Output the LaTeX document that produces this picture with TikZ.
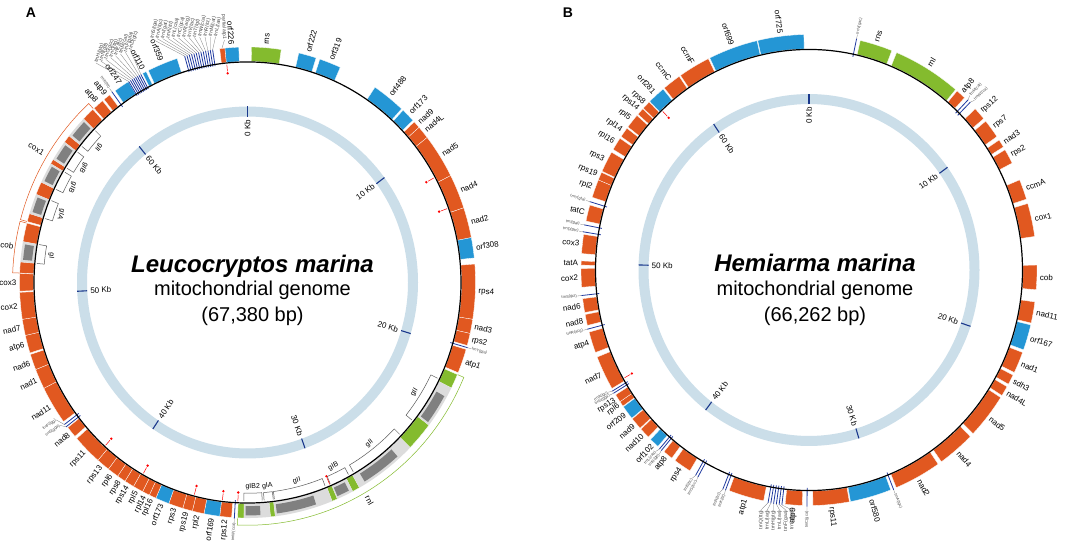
\documentclass[tikz,border=0pt]{standalone}
\usepackage{fontspec}
\setmainfont{Liberation Sans}
\definecolor{genorange}{RGB}{225,88,32}
\definecolor{genblue}{RGB}{36,150,213}
\definecolor{gengreen}{RGB}{132,187,46}
\definecolor{trnblue}{RGB}{32,58,160}
\definecolor{ringblue}{RGB}{203,222,233}
\definecolor{tickblue}{RGB}{26,56,140}
\definecolor{intlight}{RGB}{220,220,220}
\definecolor{intdark}{RGB}{128,128,128}
\definecolor{txtgray}{RGB}{70,70,70}
\definecolor{brkgray}{RGB}{90,90,90}

% annular sector: style, from, to (degrees clockwise from top), inner r, outer r
\newcommand{\gsect}[5]{\fill[#1] ({90-(#2)}:#4) arc[start angle={90-(#2)}, end angle={90-(#3)}, radius=#4]
  -- ({90-(#3)}:#5) arc[start angle={90-(#3)}, end angle={90-(#2)}, radius=#5] -- cycle;}
% radial label: style, name, angle, radius, text
\newcommand{\glabel}[5]{\pgfmathsetmacro{\labang}{#3}%
  \ifdim\labang pt<180pt
    \node[#1, anchor=west, rotate={90-\labang}] (\pfx#2) at ({90-\labang}:#4) {#5};
  \else
    \node[#1, anchor=east, rotate={270-\labang}] (\pfx#2) at ({90-\labang}:#4) {#5};
  \fi}
\newcommand{\gene}[5]{\gsect{#4}{#2}{#3}{214}{228}\glabel{glab}{#1}{(#2+#3)/2}{230}{#5}}
\newcommand{\trna}[4]{\draw[trn] ({90-(#2)}:211) -- ({90-(#2)}:229) coordinate (\pfx#1e);
  \path ({90-(#3)}:233) coordinate (\pfx#1a);
  \draw[lead] (\pfx#1e) -- (\pfx#1a);
  \glabel{tlab}{#1}{#3}{233}{#4}}
\newcommand{\redmk}[1]{\draw[mk] ({90-(#1)}:205.5) -- ({90-(#1)}:212);
  \fill[red] ({90-(#1)}:203.5) circle[radius=1.3];}
\newcommand{\ibrk}[4]{\draw[brk] ({90-(#2)}:211.5) -- ({90-(#2)}:204)
  arc[start angle={90-(#2)}, end angle={90-(#3)}, radius=204] -- ({90-(#3)}:211.5);
  \pgfmathsetmacro{\brkang}{(#2+#3)/2}%
  \node[blab, anchor=south, rotate={180-\brkang}] (\pfx#1) at ({90-\brkang}:202) {#4};}
\newcommand{\obrk}[7]{\draw[#4, line width=0.5pt] ({90-(#2)}:228.5) -- ({90-(#2)}:235)
  arc[start angle={90-(#2)}, end angle={90-(#3)}, radius=235] -- ({90-(#3)}:228.5);
  \glabel{glab}{#1}{#6}{#7}{#5}}
\newcommand{\kbring}[1]{\draw[ringst] (0,0) circle[radius=165.5];
  \foreach \k in {0,...,6} {
    \pgfmathsetmacro{\tickang}{\k*10*(360/#1)}
    \draw[tickst] ({90-\tickang}:160.5) -- ({90-\tickang}:170.5);
    \ifdim\tickang pt<180pt
      \node[klab, anchor=east, rotate={90-\tickang}] (\pfx k\k) at ({90-\tickang}:159) {\ifnum\k=0 0\else\k0\fi\ Kb};
    \else
      \node[klab, anchor=west, rotate={270-\tickang}] (\pfx k\k) at ({90-\tickang}:159) {\k0\ Kb};
    \fi}}

\begin{document}
\begin{tikzpicture}[x=1pt,y=1pt]
    \tikzstyle{gor}=[fill=genorange,draw=white,line width=0.3pt]
    \tikzstyle{gbl}=[fill=genblue,draw=white,line width=0.3pt]
    \tikzstyle{ggr}=[fill=gengreen,draw=white,line width=0.3pt]
    \tikzstyle{intl}=[fill=intlight]
    \tikzstyle{intd}=[fill=intdark]
    \tikzstyle{trn}=[draw=trnblue,line width=0.8pt]
    \tikzstyle{lead}=[draw=gray,line width=0.3pt]
    \tikzstyle{mk}=[draw=red,line width=0.5pt]
    \tikzstyle{brk}=[draw=brkgray,line width=0.5pt]
    \tikzstyle{glab}=[font=\fontsize{8}{9}\selectfont,inner sep=1pt]
    \tikzstyle{tlab}=[font=\fontsize{4}{5}\selectfont,inner sep=0.4pt,text=txtgray]
    \tikzstyle{flab}=[font=\fontsize{5}{6}\selectfont,inner sep=0.3pt,text=txtgray]
    \tikzstyle{blab}=[font=\fontsize{7}{8}\selectfont,inner sep=0.8pt]
    \tikzstyle{klab}=[font=\fontsize{8}{9}\selectfont,inner sep=1.5pt]
    \tikzstyle{ringst}=[draw=ringblue,line width=10pt]
    \tikzstyle{tickst}=[draw=tickblue,line width=1.1pt]
    \tikzstyle{titl}=[font=\fontsize{24}{28}\selectfont\bfseries\itshape]
    \tikzstyle{subt}=[font=\fontsize{20}{24}\selectfont]

    \useasboundingbox (0,0) rectangle (1074,549);
    \fill[white] (0,0) rectangle (1074,549);

    % A: Leucocryptos marina
    \def\pfx{L}
    \begin{scope}[shift={(247.5,266.5)},yscale=1.033]
        \kbring{67.38}
        \foreach \n/\a/\b/\c/\t in {rns/1/8.5/ggr/rns, o222/13/17.5/gbl/orf222, o319/18.5/24/gbl/orf319,
            o488/34/42.5/gbl/orf488, o173a/43/46.5/gbl/orf173, n9/47/48.8/gor/nad9, n4L/48.8/52/gor/nad4L,
            n5/52/63/gor/nad5, n4/63/71.5/gor/nad4, n2/71.5/79/gor/nad2, o308/79/84/gbl/orf308,
            s4/85.5/99/gor/rps4, n3/99/102.5/gor/nad3, s2/102.5/105.5/gor/rps2, a1/106.5/112.5/gor/atp1,
            s12/184/187/gor/rps12, o169/187/191/gbl/orf169, l2/191/194/gor/rpl2, s19/194/196.5/gor/rps19,
            s3/196.5/200.2/gor/rps3, o173b/200.2/203.7/gbl/orf173, l16/203.7/205.5/gor/rpl16,
            l14/205.5/207.4/gor/rpl14, l5/207.4/210/gor/rpl5, s14/210/212.5/gor/rps14, s8/212.5/214.7/gor/rps8,
            l6/214.7/217.6/gor/rpl6, s13/217.6/221/gor/rps13, s11/221/228.5/gor/rps11, n8/229.2/232/gor/nad8,
            n11/233.8/243.3/gor/nad11, n1/243.3/248.3/gor/nad1, n6/248.3/252.2/gor/nad6, a6/252.6/257/gor/atp6,
            n7/257/261/gor/nad7, x2/261/267.6/gor/cox2, x3/267.9/272.2/gor/cox3, a8/317.7/320.5/gor/atp8,
            a9/321/322.8/gor/atp9, o247/324.5/328.5/gbl/orf247, o110/332.6/333.6/gbl/orf110,
            o359/334.2/342/gbl/orf359, o226/354.3/357.8/gbl/orf226}
            {\gene{\n}{\a}{\b}{\c}{\t}}
        % exons of cob, cox1 and rnl
        \foreach \a/\b in {272.3/275, 280/284.6, 285/287, 292/295.2, 300.3/301.5, 306.6/308.5, 314/317.3, 353/354.3}
            {\gsect{gor}{\a}{\b}{214}{228}}
        \foreach \a/\b in {113/116.6, 127.3/134.5, 150.6/152.5, 156.8/158.2, 173/174.2, 180.9/182.5}
            {\gsect{ggr}{\a}{\b}{214}{228}}
        % introns
        \foreach \a/\b/\c/\d in {275/280/275.6/279.4, 287/292/287.6/291.4, 295.2/300.3/295.8/299.8,
            301.5/306.6/302.1/306.1, 308.5/314/309.1/313.5, 116.6/127.3/119.2/126.8, 134.5/150.6/138.3/148.7,
            152.5/156.8/153.3/156.5, 158.2/173/162.3/172.5, 174.2/180.9/176.7/180.5}
            {\gsect{intl}{\a}{\b}{214}{228}\gsect{intd}{\c}{\d}{216.5}{225.5}}
        \foreach \n/\a/\b/\t in {y1/106/106/trnY(gta), w1/183.3/183.3/trnW(cca), s1/232.4/233.6/trnS(gga),
            p1/233.1/235.2/trnP(tgg), k1/323.7/323.7/trnK(ttt)}
            {\trna{\n}{\a}{\b}{\t}}
        \foreach \i in {0,...,7}
            {\pgfmathsetmacro{\clang}{328.6+0.5*\i}\draw[trn] ({90-\clang}:212) -- ({90-\clang}:228) coordinate (Lp\i);}
        \foreach \i in {0,...,12}
            {\pgfmathsetmacro{\clang}{344+0.6*\i}\draw[trn] ({90-\clang}:212) -- ({90-\clang}:228) coordinate (Lq\i);}
        \path ({90-353.6}:228.5) coordinate (Lpa);
        \draw[line width=1.2pt] (0,0) circle[radius=213.5];
        \foreach \n/\a/\b/\t in {b1/116/129/gII, b2/134/150/gII, b3/151.5/157/gIB, b4/158.5/172.7/gII,
            b5/173/175.5/gIA, b6/176/181/gIB2, b7/275/280/gI, b8/287/292/gIA, b9/295.2/300.3/gIB,
            b10/301.5/306.6/gIB, b11/308.5/314/gII}
            {\ibrk{\n}{\a}{\b}{\t}}
        \obrk{cox1}{285}{317.5}{genorange}{cox1}{301.5}{238}
        \obrk{cob}{272.3}{284.6}{genorange}{cob}{278.5}{235.5}
        \obrk{rnl}{113}{182.5}{gengreen}{rnl}{150}{238}
        \foreach \m in {354.4,61.5,70.3,222,209.4,194.5,186.8,182.6,157.2} {\redmk{\m}}
    \end{scope}
    \foreach \i/\t in {0/trnH(gtg),1/trnN(gtt),2/trnG(gcc),3/trnQ(ttg),4/trnE(ttc),5/trnM(cat),6/trnF(gaa),7/trnD(gtc)}
        {\node[flab, anchor=west, rotate=72] (Lpl\i) at ({96+4.9*\i},{486+1.8*\i}) {\t};
         \draw[lead] (Lp\i) -- (Lpl\i.west);}
    \foreach \i/\t in {0/trnS(tga),1/trnA(tgc),2/trnI(gat),3/trnK(ttt),4/trnL(caa),5/trnC(gca),6/trnR(acg),
        7/trnV(tac),8/trnT(tgt),9/trnW(cca),10/trnR(tct),11/trnM(cat),12/trnL(taa)}
        {\node[flab, anchor=west, rotate=78] (Lql\i) at ({152+5.3*\i},{510+0.2*\i}) {\t};
         \draw[lead] (Lq\i) -- (Lql\i.west);}
    \node[flab, anchor=east, rotate=-88] (Lpart) at (224.5,509) {partial atp1};
    \draw[lead] (Lpa) -- (Lpart.east);
    \node[font=\fontsize{14}{14}\selectfont\bfseries, anchor=base] (pA) at (31,531) {A};
    \node[titl, anchor=base] (Ltitle) at (252.5,276.3) {Leucocryptos marina};
    \node[subt, anchor=base] (Lsub) at (252.5,253) {mitochondrial genome};
    \node[subt, anchor=base] (Lbp) at (252.5,227.3) {(67,380 bp)};

    % B: Hemiarma marina
    \def\pfx{R}
    \begin{scope}[shift={(809,279)},yscale=1.033]
        \kbring{66.262}
        \foreach \n/\a/\b/\c/\t in {rns/13/21.3/ggr/rns, rnl/22.6/40/ggr/rnl, a8/40.5/43/gor/atp8,
            s12/46.8/50/gor/rps12, s7/50.8/55.5/gor/rps7, n3/56.5/58.5/gor/nad3, s2/59.3/63/gor/rps2,
            cA/67.5/72.5/gor/ccmA, x1/73.6/81.8/gor/cox1, cob/88.8/94.8/gor/cob, n11/97.8/103/gor/nad11,
            o167/103.5/109.8/gbl/orf167, n1/110.5/115.8/gor/nad1, sd3/116.5/119/gor/sdh3,
            n4L/119.7/122.2/gor/nad4L, n5/122.8/134/gor/nad5, n4/135/144.5/gor/nad4, n2/145.5/157.5/gor/nad2,
            o580/159/169.5/gbl/orf580, s11/169.8/179/gor/rps11, a9/181.7/186/gor/atp9, a1/191.5/200.5/gor/atp1,
            s4/211.5/216/gor/rps4, a8b/217/219.5/gor/atp8, o102/221.5/224/gbl/orf102, n10/224.8/227.5/gor/nad10,
            n9/227.8/230.8/gor/nad9, o209/231/234.5/gbl/orf209, l6/234.7/236/gor/rpl6, s13/236/238/gor/rps13,
            n7/239.8/248.3/gor/nad7, a4/249.5/254.7/gor/atp4, n8/256.4/259.1/gor/nad8, n6/259.6/263/gor/nad6,
            x2/265.8/270.4/gor/cox2, tA/271.2/272.2/gor/tatA, x3/274/278.7/gor/cox3, tC/282/286/gor/tatC,
            l2/288/292.5/gor/rpl2, s19/292.5/294.5/gor/rps19, s3/294.8/300/gor/rps3, l16/300.8/304/gor/rpl16,
            l14/304.5/307/gor/rpl14, l5/307.4/311/gor/rpl5, s14/311.4/313.2/gor/rps14, s8/313.4/315.5/gor/rps8,
            o281/315.7/320.2/gbl/orf281, cC/320.6/325.3/gor/ccmC, cF/325.7/333.8/gor/ccmF,
            o699/334.2/346.8/gbl/orf699, o725/347/358.7/gbl/orf725}
            {\gene{\n}{\a}{\b}{\c}{\t}}
        \foreach \n/\a/\b/\t in {t1/12/12/trnV(gac), t2/44/43.6/trnM(cat), t3/44.8/45.2/trnW(cca),
            t4/158.3/158.3/trnA(tgc), t5/180.5/180.5/trnC(gca), t6/201.4/201.3/trnK(ttt), t7/202.1/202.5/trnR(tct),
            t8/209/208.9/trnG(tcc), t9/209.7/210.1/trnE(ttc), t10/220.2/220/trnN(gtt), t11/220.8/221.1/trnL(caa),
            t13/238.6/238.7/trnS(gga), t14/239.2/239.5/trnA(tgc), t15/255.5/255.5/trnR(acg), t16/263.8/263.8/trnS(gct),
            t17/279.3/279.3/trnD(gtc), t18/281/281/trnI(gat), t19/286.8/286.8/trnY(gta)}
            {\trna{\n}{\a}{\b}{\t}}
        \foreach \i in {0,...,5}
            {\pgfmathsetmacro{\clang}{186.8+0.7*\i}\draw[trn] ({90-\clang}:211) -- ({90-\clang}:229) coordinate (Rc\i);}
        \draw[line width=1.2pt] (0,0) circle[radius=213.5];
        \foreach \m in {316.4,240.5} {\redmk{\m}}
    \end{scope}
    \foreach \i/\t in {0/trnS(tga),1/trnF(gaa),2/trnL(taa),3/trnH(gtg),4/trnL(tag),5/trnQ(ttg)}
        {\node[flab, anchor=east, rotate=90] (Rcl\i) at ({792-6.2*\i},39) {\t};
         \draw[lead] (Rc\i) -- (Rcl\i.east);}
    \node[font=\fontsize{14}{14}\selectfont\bfseries, anchor=base] (pB) at (568,531) {B};
    \node[titl, anchor=base] (Rtitle) at (815,277.3) {Hemiarma marina};
    \node[subt, anchor=base] (Rsub) at (815,253) {mitochondrial genome};
    \node[subt, anchor=base] (Rbp) at (815,227) {(66,262 bp)};
\end{tikzpicture}
\end{document}
